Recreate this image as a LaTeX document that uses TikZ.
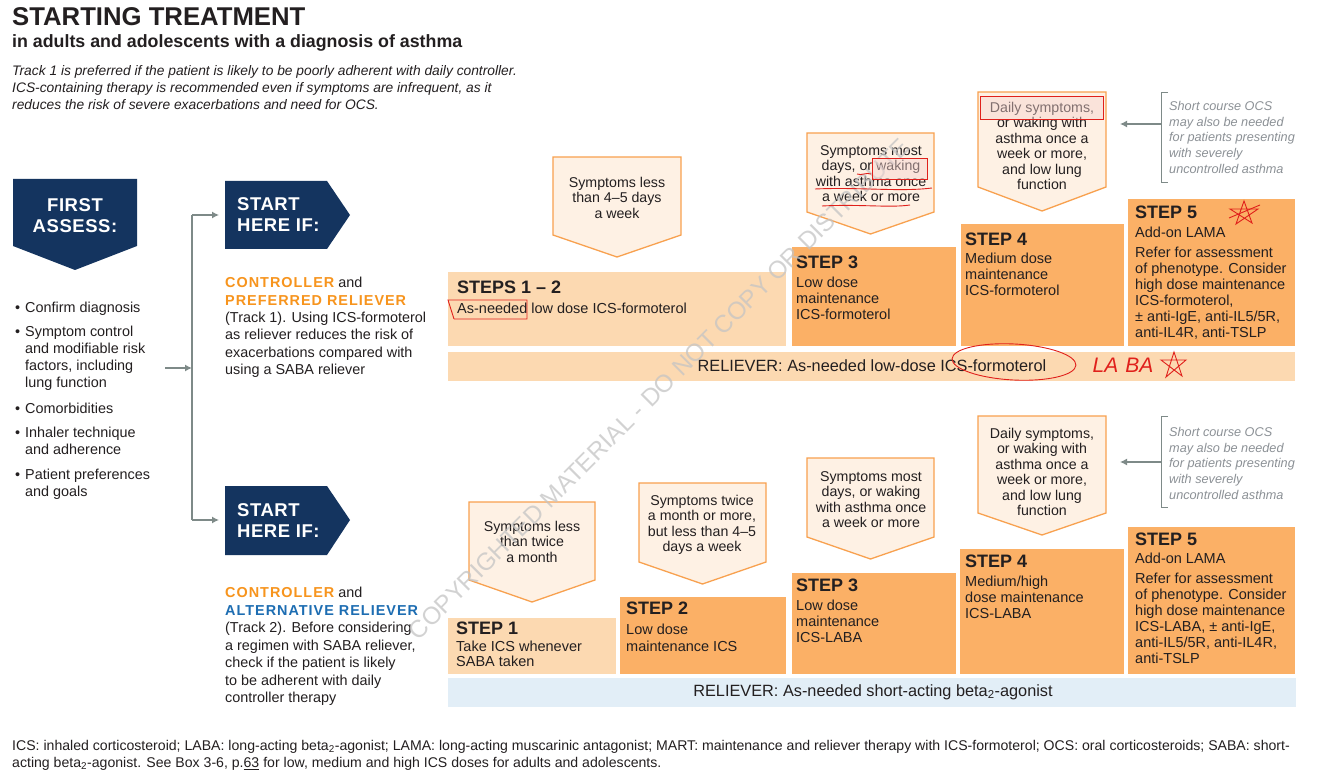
\documentclass[tikz,border=0pt]{standalone}
\usepackage{fontspec}
\setmainfont{Liberation Sans}
\newfontfamily\spaced{Liberation Sans}[LetterSpace=7]
\newfontfamily\heavy{Liberation Sans}[LetterSpace=3]
\usetikzlibrary{arrows.meta}
\definecolor{navy}{HTML}{14345F}
\definecolor{ora}{HTML}{F7941D}
\definecolor{altblue}{HTML}{1D6DB2}
\definecolor{lightstep}{HTML}{FCD9B1}
\definecolor{stepor}{HTML}{FBB066}
\definecolor{callfill}{HTML}{FEF1E4}
\definecolor{callline}{HTML}{F8A14F}
\definecolor{relblue}{HTML}{E2EEF7}
\definecolor{txt}{HTML}{231F20}
\definecolor{arrgray}{HTML}{7E8A88}
\definecolor{notegray}{HTML}{8C9196}
\definecolor{ann}{HTML}{E0201B}
\definecolor{annfill}{HTML}{F6D3D0}
\definecolor{wm}{HTML}{C4C4C4}
\newcommand\calloutshape[5]{\filldraw[callout] (#1,#3) -- (#2,#3) -- (#2,#4) -- ({(#1+#2)/2},#5) -- (#1,#4) -- cycle;}
\tikzset{
  callout/.style={fill=callfill, draw=callline, line width=1.3pt, line join=miter},
  tx/.style={inner sep=0pt, text=txt},
  body/.style={tx, font=\fontsize{14.4}{17}\selectfont, align=left, anchor=north west},
  ctext/.style={tx, font=\fontsize{14.2}{15.5}\selectfont, align=center, anchor=north},
  stitle/.style={tx, font=\fontsize{18}{20}\selectfont\bfseries, anchor=north west},
  sbody/.style={tx, font=\fontsize{14.5}{16}\selectfont, align=left, anchor=north west},
  navytext/.style={inner sep=0pt, text=white, font=\fontsize{18.5}{21}\selectfont\heavy\bfseries},
  note/.style={inner sep=0pt, text=notegray, font=\fontsize{12.7}{15.7}\selectfont\itshape, align=left, anchor=north west},
  conn/.style={draw=arrgray, line width=1.3pt},
  arr/.style={conn, -{Latex[length=7pt,width=7pt]}},
  annline/.style={draw=ann, line width=0.9pt},
  relief/.style={tx, font=\fontsize{16.3}{19}\selectfont, anchor=center},
}
\begin{document}
\begin{tikzpicture}[x=1pt,y=-1pt]
\useasboundingbox[fill=white] (0,0) rectangle (1320,783);

% ---------- header ----------
\node[tx, anchor=north west, font=\fontsize{25.7}{28}\selectfont\bfseries] (title) at (12,7) {STARTING TREATMENT};
\node[tx, anchor=north west, font=\fontsize{17.8}{19}\selectfont\bfseries] (subtitle) at (12,34) {in adults and adolescents with a diagnosis of asthma};
\node[tx, anchor=north west, align=left, font=\fontsize{13.8}{17}\selectfont\itshape] (intro) at (12,65)
  {Track 1 is preferred if the patient is likely to be poorly adherent with daily controller.\\
   ICS-containing therapy is recommended even if symptoms are infrequent, as it\\
   reduces the risk of severe exacerbations and need for OCS.};

% ---------- first assess ----------
\fill[navy] (13,179) -- (137,179) -- (137,246) -- (75,270) -- (13,246) -- cycle;
\node[navytext, align=center, anchor=north] (assess) at (75,198) {FIRST\\ASSESS:};

\node[body] (b1) at (25,302) {\llap{\textbullet\hspace{5pt}}Confirm diagnosis};
\node[body] (b2) at (25,326) {\llap{\textbullet\hspace{5pt}}Symptom control\\and modifiable risk\\factors, including\\lung function};
\node[body] (b3) at (25,403) {\llap{\textbullet\hspace{5pt}}Comorbidities};
\node[body] (b4) at (25,427) {\llap{\textbullet\hspace{5pt}}Inhaler technique\\and adherence};
\node[body] (b5) at (25,469) {\llap{\textbullet\hspace{5pt}}Patient preferences\\and goals};

% ---------- start here boxes ----------
\fill[navy] (225,181) -- (327,181) -- (350,215) -- (327,249) -- (225,249) -- cycle;
\node[navytext, align=left, anchor=north west] (start1) at (237,197) {START\\HERE IF:};
\fill[navy] (225,486) -- (327,486) -- (350,520) -- (327,555) -- (225,555) -- cycle;
\node[navytext, align=left, anchor=north west] (start2) at (237,503) {START\\HERE IF:};

% connectors
\coordinate (assessout) at (165,368);
\coordinate (split) at (192,368);
\coordinate (jtop) at (192,215);
\coordinate (jbot) at (192,520);
\coordinate (in1) at (219,215);
\coordinate (in2) at (219,520);
\draw[arr] (assessout) -- (split);
\draw[conn] (jtop) -- (jbot);
\draw[arr] (jtop) -- (in1);
\draw[arr] (jbot) -- (in2);

\node[body, font=\fontsize{14.4}{17.4}\selectfont] (track1) at (225,277)
  {{\spaced\bfseries\color{ora}CONTROLLER} and\\
   {\spaced\bfseries\color{ora}PREFERRED RELIEVER}\\
   (Track 1). Using ICS-formoterol\\
   as reliever reduces the risk of\\
   exacerbations compared with\\
   using a SABA reliever};
\node[body, font=\fontsize{14.4}{17.5}\selectfont] (track2) at (225,587)
  {{\spaced\bfseries\color{ora}CONTROLLER} and\\
   {\spaced\bfseries\color{altblue}ALTERNATIVE RELIEVER}\\
   (Track 2). Before considering\\
   a regimen with SABA reliever,\\
   check if the patient is likely\\
   to be adherent with daily\\
   controller therapy};

% ---------- track 1 ----------
\calloutshape{553}{681}{157}{235}{257}
\node[ctext] (t1c1) at (617,177) {Symptoms less\\than 4--5 days\\a week};
\calloutshape{807}{934}{133}{212}{234}
\node[ctext] (t1c3) at (871,145) {Symptoms most\\days, or waking\\with asthma once\\a week or more};
\calloutshape{978}{1106}{92}{187}{211}
\node[ctext] (t1c4) at (1042,102) {Daily symptoms,\\or waking with\\asthma once a\\week or more,\\and low lung\\function};

\fill[lightstep] (448,272) rectangle (786,346);
\node[stitle] (t1s12) at (457,281) {STEPS 1 -- 2};
\node[sbody] (t1s12b) at (457,303) {As-needed low dose ICS-formoterol};
\fill[stepor] (792,247) rectangle (956,346);
\node[stitle] (t1s3) at (796,256) {STEP 3};
\node[sbody] (t1s3b) at (796,277) {Low dose\\maintenance\\ICS-formoterol};
\fill[stepor] (961,224) rectangle (1124,346);
\node[stitle] (t1s4) at (965,233) {STEP 4};
\node[sbody] (t1s4b) at (965,253) {Medium dose\\maintenance\\ICS-formoterol};
\fill[stepor] (1128,199) rectangle (1295,346);
\node[stitle] (t1s5) at (1135,206) {STEP 5};
\node[sbody] (t1s5a) at (1135,227) {Add-on LAMA};
\node[sbody] (t1s5b) at (1135,247) {Refer for assessment\\of phenotype. Consider\\high dose maintenance\\ICS-formoterol,\\\textpm{} anti-IgE, anti-IL5/5R,\\anti-IL4R, anti-TSLP};
\fill[lightstep] (448,352) rectangle (1295,381);
\node[relief] (rel1) at (872,366) {RELIEVER: As-needed low-dose ICS-formoterol};

\coordinate (ocs1a) at (1161,124);
\coordinate (ocs1b) at (1120,124);
\draw[conn, line width=1pt] (1168,93) -- (1161,93) -- (1161,183) -- (1168,183);
\draw[arr] (ocs1a) -- (ocs1b);
\node[note] (ocs1) at (1169,101) {Short course OCS\\may also be needed\\for patients presenting\\with severely\\uncontrolled asthma};

% ---------- track 2 ----------
\calloutshape{469}{595}{502}{580}{602}
\node[ctext] (t2c1) at (532,521) {Symptoms less\\than twice\\a month};
\calloutshape{639}{766}{483}{562}{584}
\node[ctext] (t2c2) at (702,495) {Symptoms twice\\a month or more,\\but less than 4--5\\days a week};
\calloutshape{807}{934}{458}{537}{559}
\node[ctext] (t2c3) at (871,471) {Symptoms most\\days, or waking\\with asthma once\\a week or more};
\calloutshape{978}{1106}{416}{513}{535}
\node[ctext] (t2c4) at (1042,428) {Daily symptoms,\\or waking with\\asthma once a\\week or more,\\and low lung\\function};

\fill[lightstep] (448,618) rectangle (616,674);
\node[stitle] (t2s1) at (456,622) {STEP 1};
\node[sbody, font=\fontsize{14.5}{14.5}\selectfont] (t2s1b) at (456,641) {Take ICS whenever\\SABA taken};
\fill[stepor] (620,597) rectangle (786,674);
\node[stitle] (t2s2) at (626,602) {STEP 2};
\node[sbody, font=\fontsize{14.5}{17}\selectfont] (t2s2b) at (626,624) {Low dose\\maintenance ICS};
\fill[stepor] (792,573) rectangle (956,674);
\node[stitle] (t2s3) at (796,579) {STEP 3};
\node[sbody] (t2s3b) at (796,600) {Low dose\\maintenance\\ICS-LABA};
\fill[stepor] (960,549) rectangle (1124,674);
\node[stitle] (t2s4) at (965,555) {STEP 4};
\node[sbody] (t2s4b) at (965,576) {Medium/high\\dose maintenance\\ICS-LABA};
\fill[stepor] (1128,527) rectangle (1295,674);
\node[stitle] (t2s5) at (1135,533) {STEP 5};
\node[sbody] (t2s5a) at (1135,553) {Add-on LAMA};
\node[sbody] (t2s5b) at (1135,573) {Refer for assessment\\of phenotype. Consider\\high dose maintenance\\ICS-LABA, \textpm{} anti-IgE,\\anti-IL5/5R, anti-IL4R,\\anti-TSLP};
\fill[relblue] (448,678) rectangle (1296,707);
\node[relief] (rel2) at (873,692) {RELIEVER: As-needed short-acting beta\textsubscript{2}-agonist};

\coordinate (ocs2a) at (1161,462);
\coordinate (ocs2b) at (1120,462);
\draw[conn, line width=1pt] (1168,417) -- (1161,417) -- (1161,507) -- (1168,507);
\draw[arr] (ocs2a) -- (ocs2b);
\node[note] (ocs2) at (1169,427) {Short course OCS\\may also be needed\\for patients presenting\\with severely\\uncontrolled asthma};

% ---------- footer ----------
\node[tx, anchor=north west, align=left, font=\fontsize{14.1}{17}\selectfont] (footer) at (12,740)
  {ICS: inhaled corticosteroid; LABA: long-acting beta\textsubscript{2}-agonist; LAMA: long-acting muscarinic antagonist; MART: maintenance and reliever therapy with ICS-formoterol; OCS: oral corticosteroids; SABA: short-\\
   acting beta\textsubscript{2}-agonist. See Box 3-6, p.\underline{63} for low, medium and high ICS doses for adults and adolescents.};

% ---------- watermark ----------
\node[inner sep=0pt, text=wm, rotate=45, font=\fontsize{24.5}{24.5}\selectfont, opacity=0.75] (wmark) at (659,389) {COPYRIGHTED MATERIAL - DO NOT COPY OR DISTRIBUTE};

% ---------- red annotations ----------
\draw[annline, fill=annfill, fill opacity=0.45] (980,96) rectangle (1103,119);
\draw[annline, fill=annfill, fill opacity=0.45] (872,158) rectangle (927,179);
\draw[annline] (454,319) -- (448,300) -- (527,300) -- (527,319) -- (454,319);
\draw[annline] (857,174) .. controls (862,176) and (866,172) .. (871,174);
\draw[annline] (815,189) .. controls (860,187) and (900,192) .. (932,188);
\draw[annline] (822,206) .. controls (860,204) and (890,208) .. (910,205);
\draw[annline] (1014,362) ellipse [x radius=62, y radius=18, rotate=-3];
\node[inner sep=0pt, text=ann, font=\fontsize{21}{21}\selectfont\itshape] (labascrawl) at (1123,365) {LA\hspace{7pt}BA};
\draw[annline] (1174,352) -- (1166,377) -- (1186,360) -- (1161,360) -- (1182,376) -- cycle;
\draw[annline] (1244,201) -- (1236,224) -- (1258,209) -- (1230,209) -- (1252,223) -- cycle;
\draw[annline] (1229,218) -- (1260,205);
\end{tikzpicture}
\end{document}
